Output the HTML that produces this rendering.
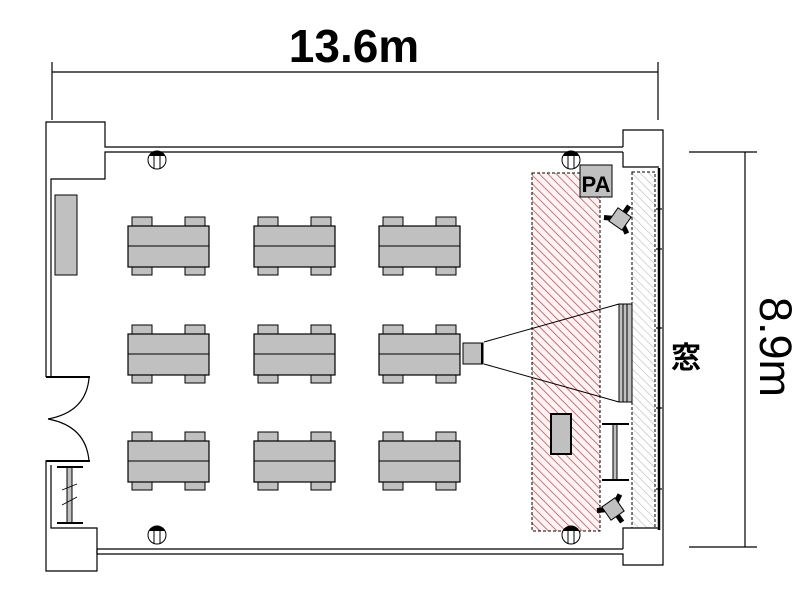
<!DOCTYPE html>
<html><head><meta charset="utf-8"><style>html,body{margin:0;padding:0;background:#fff}svg{display:block}</style></head>
<body>
<svg width="800" height="600" viewBox="0 0 800 600" xmlns="http://www.w3.org/2000/svg">
<defs>
<pattern id="hr" width="6" height="6" patternUnits="userSpaceOnUse" patternTransform="rotate(-45)">
<rect width="6" height="6" fill="#fff3f3"/><line x1="0" y1="0" x2="0" y2="6" stroke="#b04040" stroke-width="1.4"/></pattern>
<pattern id="hg" width="6" height="6" patternUnits="userSpaceOnUse" patternTransform="rotate(-45)">
<rect width="6" height="6" fill="#fff"/><line x1="0" y1="0" x2="0" y2="6" stroke="#bbb" stroke-width="1.2"/></pattern>
<g id="tbl">
<rect x="4" y="-9" width="20" height="9" fill="#c0c0c0" stroke="#000"/>
<rect x="57" y="-9" width="20" height="9" fill="#c0c0c0" stroke="#000"/>
<rect x="4" y="40" width="20" height="9" fill="#c0c0c0" stroke="#000"/>
<rect x="57" y="40" width="20" height="9" fill="#c0c0c0" stroke="#000"/>
<rect x="0" y="0" width="81" height="41" fill="#c0c0c0" stroke="#000" stroke-width="1.2"/>
<line x1="0" y1="20" x2="81" y2="20" stroke="#000"/>
</g>
<g id="pil">
<circle cx="0" cy="0" r="9" fill="#fff" stroke="#000"/>
<path d="M-8,-4 A9,9 0 0 1 8,-4 Z" fill="#000"/>
<line x1="-3" y1="-7" x2="-3" y2="8" stroke="#000"/><line x1="3" y1="-7" x2="3" y2="8" stroke="#000"/>
</g>
</defs>
<g stroke="#000" stroke-width="1.2" fill="none">
<line x1="52" y1="72" x2="658" y2="72"/>
<line x1="52" y1="62" x2="52" y2="120"/><line x1="658" y1="62" x2="658" y2="120"/>
<line x1="745" y1="152" x2="745" y2="547"/>
<line x1="689" y1="152" x2="757" y2="152"/><line x1="689" y1="547" x2="757" y2="547"/>
</g>
<text x="354" y="62" font-family="Liberation Sans, sans-serif" font-weight="bold" font-size="46" text-anchor="middle">13.6m</text>
<text transform="translate(760,347) rotate(90)" font-family="Liberation Sans, sans-serif" font-size="45" text-anchor="middle">8.9m</text>
<text x="686" y="364" font-family="Noto Sans CJK JP, sans-serif" font-weight="bold" font-size="20" text-anchor="middle" transform="translate(686,356) scale(1.5) translate(-686,-356)">窓</text>

<rect x="532" y="173" width="68" height="358" fill="url(#hr)" stroke="#000" stroke-dasharray="3,2"/>
<rect x="632" y="172" width="23" height="356" fill="url(#hg)" stroke="#000" stroke-dasharray="3,2"/>

<g stroke="#000" stroke-width="1.2" fill="none">
<polyline points="46,377 46,122 105,122 105,147 623,147"/>
<polyline points="51,377 51,179 105,179 105,152 623,152"/>
<line x1="46" y1="377" x2="90" y2="377" stroke-width="2"/>
<polyline points="623,147 623,130 663,130 663,565 623,565 623,554 97,554"/>
<polyline points="623,152 623,167 659,167"/>
<polyline points="623,549 623,528 659,528"/>
<line x1="97" y1="549" x2="623" y2="549"/>
<polyline points="90,461 46,461 46,571 97,571 97,528 51,528 51,465"/>
<line x1="46" y1="461" x2="90" y2="461" stroke-width="2"/>
<line x1="97" y1="549" x2="97" y2="554"/>
<path d="M89,378 Q86,412 48,419"/>
<path d="M89,461 Q86,426 48,419"/>
</g>
<line x1="659" y1="168" x2="659" y2="530" stroke="#000" stroke-width="2.5"/>
<g stroke="#000" stroke-width="1.2"><line x1="656" y1="209" x2="662" y2="209"/><line x1="656" y1="249" x2="662" y2="249"/><line x1="656" y1="328" x2="662" y2="328"/><line x1="656" y1="408" x2="662" y2="408"/><line x1="656" y1="489" x2="662" y2="489"/></g>
<rect x="67" y="467" width="5" height="56" fill="#c0c0c0" stroke="#000"/>
<line x1="57" y1="467" x2="83" y2="467" stroke="#000" stroke-width="2"/>
<line x1="57" y1="523" x2="83" y2="523" stroke="#000" stroke-width="2"/>
<line x1="62" y1="490" x2="77" y2="484" stroke="#000" stroke-width="0.8"/>
<line x1="62" y1="505" x2="77" y2="497" stroke="#000" stroke-width="0.8"/>
<rect x="55" y="195" width="22" height="80" fill="#c0c0c0" stroke="#000"/>
<use href="#pil" x="157" y="160"/><use href="#pil" x="571" y="160"/>
<use href="#pil" x="157" y="535"/><use href="#pil" x="571" y="535"/>
<use href="#tbl" x="128" y="226"/><use href="#tbl" x="254" y="226"/><use href="#tbl" x="379" y="226"/>
<use href="#tbl" x="128" y="334"/><use href="#tbl" x="254" y="334"/><use href="#tbl" x="379" y="334"/>
<use href="#tbl" x="128" y="441"/><use href="#tbl" x="254" y="441"/><use href="#tbl" x="379" y="441"/>
<rect x="463" y="343" width="20" height="21" fill="#c0c0c0" stroke="#000"/>
<line x1="482" y1="343" x2="482" y2="364" stroke="#000" stroke-width="2"/>
<line x1="484" y1="342" x2="619" y2="304" stroke="#000"/>
<line x1="484" y1="364" x2="619" y2="402" stroke="#000"/>
<rect x="619" y="304" width="13" height="98" fill="#c0c0c0" stroke="#000"/>
<line x1="623" y1="304" x2="623" y2="402" stroke="#000"/><line x1="627" y1="304" x2="627" y2="402" stroke="#000"/>
<rect x="551" y="414" width="20" height="40" fill="#c0c0c0" stroke="#000" stroke-width="2"/>
<rect x="613" y="424" width="4" height="56" fill="#c0c0c0" stroke="#000"/>
<line x1="602" y1="424" x2="629" y2="424" stroke="#000" stroke-width="2"/>
<line x1="602" y1="480" x2="629" y2="480" stroke="#000" stroke-width="2"/>
<rect x="580" y="165" width="32" height="32" fill="#c0c0c0" stroke="#000"/>
<text x="596" y="192" font-family="Liberation Sans, sans-serif" font-weight="bold" font-size="22" text-anchor="middle">PA</text>
<g transform="translate(620,219) rotate(35)">
<line x1="0" y1="0" x2="0" y2="-16" stroke="#000" stroke-width="5"/>
<line x1="0" y1="0" x2="14" y2="8" stroke="#000" stroke-width="5"/>
<line x1="0" y1="0" x2="-14" y2="8" stroke="#000" stroke-width="5"/>
<rect x="-8" y="-8" width="16" height="16" fill="#c0c0c0" stroke="#000"/>
</g>
<g transform="translate(613,509) rotate(-35)">
<line x1="0" y1="0" x2="0" y2="16" stroke="#000" stroke-width="5"/>
<line x1="0" y1="0" x2="14" y2="-8" stroke="#000" stroke-width="5"/>
<line x1="0" y1="0" x2="-14" y2="-8" stroke="#000" stroke-width="5"/>
<rect x="-8" y="-8" width="16" height="16" fill="#c0c0c0" stroke="#000"/>
</g>
</svg>
</body></html>
